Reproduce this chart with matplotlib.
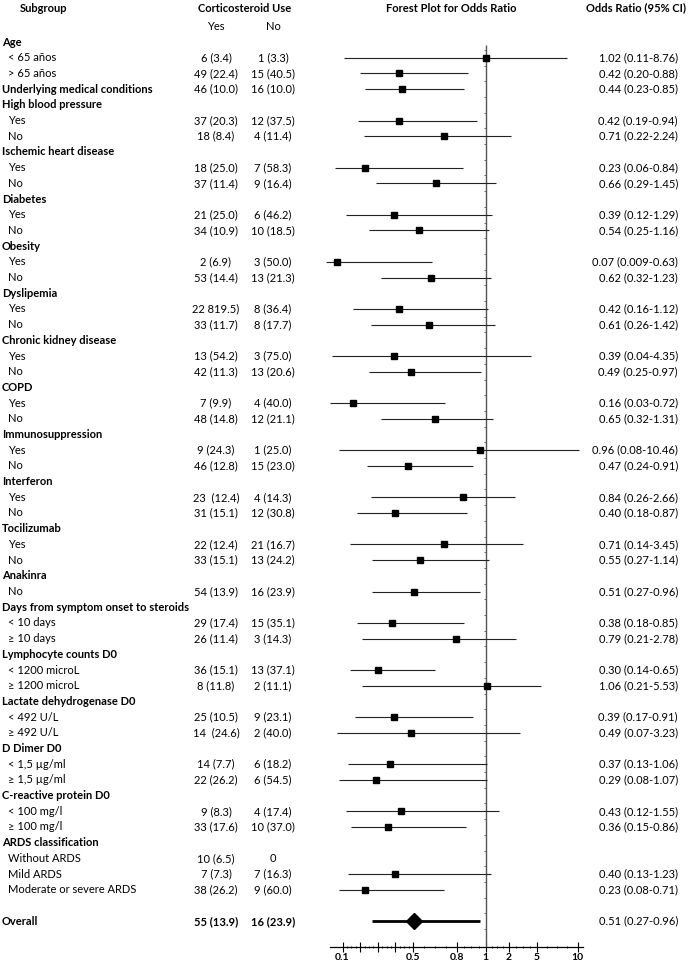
import matplotlib
matplotlib.use("Agg")
import matplotlib.pyplot as plt
import numpy as np

plt.rcParams['font.family'] = ['Lato', 'DejaVu Sans']

# -------- Data --------
labels = [
    "Age", "< 65 años", "> 65 años", "Underlying medical conditions",
    "High blood pressure", "Yes", "No",
    "Ischemic heart disease", "Yes", "No",
    "Diabetes", "Yes", "No",
    "Obesity", "Yes", "No",
    "Dyslipemia", "Yes", "No",
    "Chronic kidney disease", "Yes", "No",
    "COPD", "Yes", "No",
    "Immunosuppression", "Yes", "No",
    "Interferon", "Yes", "No",
    "Tocilizumab", "Yes", "No",
    "Anakinra", "No",
    "Days from symptom onset to steroids", "< 10 days", "≥ 10 days",
    "Lymphocyte counts D0", "< 1200 microL", "≥ 1200 microL",
    "Lactate dehydrogenase D0", "< 492 U/L", "≥ 492 U/L",
    "D Dimer D0", "< 1,5 µg/ml", "≥ 1,5 µg/ml",
    "C-reactive protein D0", "< 100 mg/l", "≥ 100 mg/l",
    "ARDS classification", "Without ARDS", "Mild ARDS", "Moderate or severe ARDS",
    "", "Overall",
]

top_level = {
    "Age", "Underlying medical conditions", "High blood pressure",
    "Ischemic heart disease", "Diabetes", "Obesity", "Dyslipemia",
    "Chronic kidney disease", "COPD", "Immunosuppression", "Interferon",
    "Tocilizumab", "Anakinra", "Days from symptom onset to steroids",
    "Lymphocyte counts D0", "Lactate dehydrogenase D0", "D Dimer D0",
    "C-reactive protein D0", "ARDS classification", "Overall",
}

yes_use = [
    "", "6 (3.4)", "49 (22.4)", "46 (10.0)",
    "", "37 (20.3)", "18 (8.4)",
    "", "18 (25.0)", "37 (11.4)",
    "", "21 (25.0)", "34 (10.9)",
    "", "2 (6.9)", "53 (14.4)",
    "", "22 819.5)", "33 (11.7)",
    "", "13 (54.2)", "42 (11.3)",
    "", "7 (9.9)", "48 (14.8)",
    "", "9 (24.3)", "46 (12.8)",
    "", "23  (12.4)", "31 (15.1)",
    "", "22 (12.4)", "33 (15.1)",
    "", "54 (13.9)",
    "", "29 (17.4)", "26 (11.4)",
    "", "36 (15.1)", "8 (11.8)",
    "", "25 (10.5)", "14  (24.6)",
    "", "14 (7.7)", "22 (26.2)",
    "", "9 (8.3)", "33 (17.6)",
    "", "10 (6.5)", "7 (7.3)", "38 (26.2)",
    "", "55 (13.9)",
]

no_use = [
    "", "1 (3.3)", "15 (40.5)", "16 (10.0)",
    "", "12 (37.5)", "4 (11.4)",
    "", "7 (58.3)", "9 (16.4)",
    "", "6 (46.2)", "10 (18.5)",
    "", "3 (50.0)", "13 (21.3)",
    "", "8 (36.4)", "8 (17.7)",
    "", "3 (75.0)", "13 (20.6)",
    "", "4 (40.0)", "12 (21.1)",
    "", "1 (25.0)", "15 (23.0)",
    "", "4 (14.3)", "12 (30.8)",
    "", "21 (16.7)", "13 (24.2)",
    "", "16 (23.9)",
    "", "15 (35.1)", "3 (14.3)",
    "", "13 (37.1)", "2 (11.1)",
    "", "9 (23.1)", "2 (40.0)",
    "", "6 (18.2)", "6 (54.5)",
    "", "4 (17.4)", "10 (37.0)",
    "", "0", "7 (16.3)", "9 (60.0)",
    "", "16 (23.9)",
]

N = None
odds = [N, 1.02, 0.42, 0.44, N, 0.42, 0.71, N, 0.23, 0.66, N, 0.39, 0.54,
        N, 0.07, 0.62, N, 0.42, 0.61, N, 0.39, 0.49, N, 0.16, 0.65,
        N, 0.96, 0.47, N, 0.84, 0.40, N, 0.71, 0.55, N, 0.51,
        N, 0.38, 0.79, N, 0.30, 1.06, N, 0.39, 0.49, N, 0.37, 0.29,
        N, 0.43, 0.36, N, N, 0.40, 0.23, N, 0.51]
ci_low = [N, 0.11, 0.20, 0.23, N, 0.19, 0.22, N, 0.06, 0.29, N, 0.12, 0.25,
          N, 0.009, 0.32, N, 0.16, 0.26, N, 0.04, 0.25, N, 0.03, 0.32,
          N, 0.08, 0.24, N, 0.26, 0.18, N, 0.14, 0.27, N, 0.27,
          N, 0.18, 0.21, N, 0.14, 0.21, N, 0.17, 0.07, N, 0.13, 0.08,
          N, 0.12, 0.15, N, N, 0.13, 0.08, N, 0.27]
ci_high = [N, 8.76, 0.88, 0.85, N, 0.94, 2.24, N, 0.84, 1.45, N, 1.29, 1.16,
           N, 0.63, 1.23, N, 1.12, 1.42, N, 4.35, 0.97, N, 0.72, 1.31,
           N, 10.46, 0.91, N, 2.66, 0.87, N, 3.45, 1.14, N, 0.96,
           N, 0.85, 2.78, N, 0.65, 5.53, N, 0.91, 3.23, N, 1.06, 1.07,
           N, 1.55, 0.86, N, N, 1.23, 0.71, N, 0.96]

or_text = [
    "", "1.02 (0.11-8.76)", "0.42 (0.20-0.88)", "0.44 (0.23-0.85)",
    "", "0.42 (0.19-0.94)", "0.71 (0.22-2.24)",
    "", "0.23 (0.06-0.84)", "0.66 (0.29-1.45)",
    "", "0.39 (0.12-1.29)", "0.54 (0.25-1.16)",
    "", "0.07 (0.009-0.63)", "0.62 (0.32-1.23)",
    "", "0.42 (0.16-1.12)", "0.61 (0.26-1.42)",
    "", "0.39 (0.04-4.35)", "0.49 (0.25-0.97)",
    "", "0.16 (0.03-0.72)", "0.65 (0.32-1.31)",
    "", "0.96 (0.08-10.46)", "0.47 (0.24-0.91)",
    "", "0.84 (0.26-2.66)", "0.40 (0.18-0.87)",
    "", "0.71 (0.14-3.45)", "0.55 (0.27-1.14)",
    "", "0.51 (0.27-0.96)",
    "", "0.38 (0.18-0.85)", "0.79 (0.21-2.78)",
    "", "0.30 (0.14-0.65)", "1.06 (0.21-5.53)",
    "", "0.39 (0.17-0.91)", "0.49 (0.07-3.23)",
    "", "0.37 (0.13-1.06)", "0.29 (0.08-1.07)",
    "", "0.43 (0.12-1.55)", "0.36 (0.15-0.86)",
    "", "", "0.40 (0.13-1.23)", "0.23 (0.08-0.71)",
    "", "0.51 (0.27-0.96)",
]

tick_vals = [0.1, 0.2, 0.3, 0.4, 0.5, 0.8, 1, 2, 5, 10]
tick_labels = ["0.1", "", "", "", "0.5", "0.8", "1", "2", "5", "10"]

# -------- Layout --------
W, H = 688, 965
ROW0, STEP = 42, 15.7          # pixel row of first line, row spacing


def row_lims(top_px, bottom_px):
    return (bottom_px - ROW0) / STEP, (top_px - ROW0) / STEP


fig = plt.figure(figsize=(W / 100, H / 100), dpi=100)

# text layer
txt = fig.add_axes([0, 0, 1, 1])
txt.set_xlim(0, W)
txt.set_ylim(*row_lims(0, H))
txt.axis("off")

# forest layer, with the piecewise axis of the original chart
AX_L, AX_R, AX_T, AX_B = 300, 600, 40, 947
ax = fig.add_axes([AX_L / W, (H - AX_B) / H, (AX_R - AX_L) / W, (AX_B - AX_T) / H])
ax.patch.set_alpha(0)

or_anchor = [-1, 0.1, 0.5, 0.8, 1, 2, 5, 10, 20]
px_anchor = [147.25, 342.5, 413, 457, 485.7, 509, 537, 577.5, 620]


def fwd(v):
    return np.interp(v, or_anchor, px_anchor)


def inv(p):
    return np.interp(p, px_anchor, or_anchor)


ax.set_xscale("function", functions=(fwd, inv))
ax.set_xlim(inv(AX_L), inv(AX_R))
ax.set_ylim(*row_lims(AX_T, AX_B))

rows = np.arange(len(labels))

# column headers
hdr_row = (8 - ROW0) / STEP
sub_row = (26 - ROW0) / STEP
txt.text(20, hdr_row, "Subgroup", fontsize=8, fontweight="bold", va="center")
txt.text(245, hdr_row, "Corticosteroid Use", fontsize=8, fontweight="bold", va="center", ha="center")
txt.text(216, sub_row, "Yes", fontsize=8, va="center", ha="center")
txt.text(273, sub_row, "No", fontsize=8, va="center", ha="center")
txt.text(451, hdr_row, "Forest Plot for Odds Ratio", fontsize=8, fontweight="bold", va="center", ha="center")
txt.text(636, hdr_row, "Odds Ratio (95% CI)", fontsize=8, fontweight="bold", va="center", ha="center")

for r, lab, y_s, n_s, o_s in zip(rows, labels, yes_use, no_use, or_text):
    main = lab in top_level
    txt.text(2 if main else 8, r, lab, fontsize=8,
             fontweight="bold" if main else "normal", va="center")
    w = "bold" if lab == "Overall" else "normal"
    txt.text(216, r, y_s, fontsize=8, fontweight=w, va="center", ha="center")
    txt.text(273, r, n_s, fontsize=8, fontweight=w, va="center", ha="center")
    txt.text(678, r, o_s, fontsize=8, va="center", ha="right")

# forest marks
ax.vlines(1, 0.2, row_lims(AX_T, AX_B)[0], color="#555555", lw=1)
ax.plot(np.ones(57), np.arange(57) + 0.5, ls="none", marker=0, ms=1.5,
        mew=0.6, color="#555555")

overall = labels.index("Overall")
for r, o, lo, hi in zip(rows, odds, ci_low, ci_high):
    if o is None:
        continue
    if r == overall:
        ax.hlines(r, lo, hi, color="black", lw=2)
        ax.plot(o, r, "D", ms=8, color="black")
    else:
        ax.hlines(r, lo, hi, color="#222222", lw=0.8)
        ax.plot(o, r, "s", ms=4.5, color="black")

# x axis
for s in ("top", "right", "left"):
    ax.spines[s].set_visible(False)
ax.spines["bottom"].set_bounds(inv(330), inv(583))
ax.spines["bottom"].set_linewidth(0.9)
ax.set_yticks([])
ax.set_xticks(tick_vals)
ax.set_xticklabels(tick_labels)
ax.set_xticks([0.125, 0.15, 0.175, 0.225, 0.25, 0.275, 0.325, 0.35, 0.375,
               0.425, 0.45, 0.475, 0.575, 0.65, 0.725, 0.85, 0.9, 0.95,
               1.25, 1.5, 1.75, 2.75, 3.5, 4.25, 6.25, 7.5, 8.75], minor=True)
ax.tick_params(axis="x", which="major", direction="inout", length=7,
               width=0.8, labelsize=7.5, pad=1)
ax.tick_params(axis="x", which="minor", direction="inout", length=2, width=0.6)
for t in ax.get_xticklabels():
    t.set_fontweight("bold")

fig.savefig("out.png", dpi=100)
